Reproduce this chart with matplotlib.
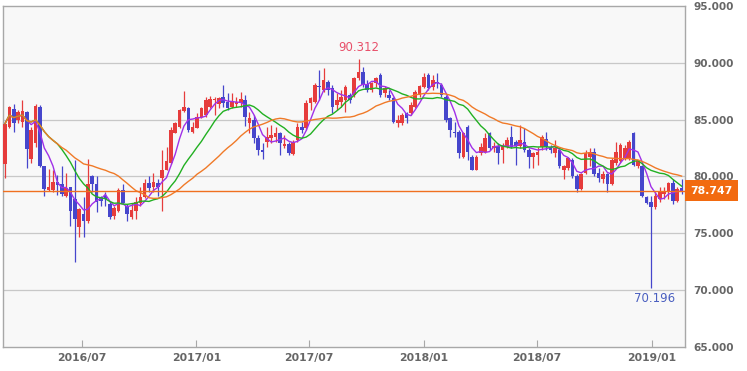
import numpy as np
import pandas as pd
import matplotlib
matplotlib.use("Agg")
import matplotlib.pyplot as plt
import matplotlib.dates as mdates
import matplotlib.transforms as mtrans

# ---- data (weekly candles, AUD/JPY style) ----
start_date = "2016-02-29"
opens = [81.14,84.39,85.96,85.00,84.82,85.70,81.58,82.98,86.14,80.88,
78.77,78.77,79.56,79.30,78.25,79.04,77.98,75.53,76.67,76.05,
80.00,79.30,78.07,78.25,77.54,76.49,76.93,78.77,77.37,76.40,
76.93,77.63,78.16,79.47,79.04,79.47,79.91,80.61,81.23,83.86,
84.39,85.79,86.05,83.95,84.30,85.26,85.44,86.14,86.75,86.40,
87.02,86.58,86.14,86.40,86.49,86.75,84.74,85.00,83.42,82.37,
83.07,83.42,83.51,83.86,82.72,82.90,82.02,83.25,84.39,84.30,
86.49,86.58,87.98,87.63,88.33,87.81,86.32,86.58,86.75,87.19,
87.19,88.68,89.21,88.16,87.63,88.25,88.95,87.37,87.19,86.93,
84.74,84.74,85.61,85.61,86.14,87.19,87.90,88.95,87.90,88.33,
88.07,87.02,85.18,83.95,83.95,81.75,84.39,81.75,80.61,82.11,
82.19,83.86,82.54,82.72,82.37,82.63,83.51,83.07,82.72,83.07,
82.37,81.75,81.93,82.63,83.33,82.63,82.11,82.37,80.53,80.79,
81.49,80.00,78.86,80.35,81.75,82.19,80.35,79.74,80.18,79.30,
81.23,81.32,81.67,81.67,83.86,80.88,80.88,78.16,77.72,77.28,
77.98,78.42,78.60,79.47,77.81,78.95]
highs = [84.91,86.23,86.40,85.88,86.75,85.75,84.39,86.40,86.32,80.95,
80.70,80.61,80.09,80.88,80.35,79.10,81.49,77.20,78.16,81.58,
80.09,80.00,78.25,78.68,77.81,77.37,78.95,79.30,77.54,77.63,
78.16,79.04,79.74,80.00,80.35,79.74,82.37,82.63,84.39,84.82,
85.96,87.54,86.10,84.82,85.61,86.14,87.02,87.10,87.02,87.02,
88.07,87.37,87.37,87.02,87.46,87.19,85.70,85.44,83.68,82.98,
84.39,84.56,84.39,83.95,83.68,83.07,83.25,84.74,84.82,86.75,
87.02,88.25,89.39,89.56,88.51,88.07,87.37,87.63,88.07,87.37,
88.77,90.312,89.65,88.51,88.33,88.77,89.12,87.98,87.63,87.02,
85.44,85.61,85.70,86.58,87.63,88.07,89.12,89.12,88.95,89.12,
88.25,87.19,85.26,84.82,84.12,83.95,84.56,81.93,81.93,82.98,
83.86,83.95,83.07,82.98,82.98,83.51,84.47,83.25,84.56,84.30,
82.54,82.19,82.63,83.68,83.95,82.81,83.25,82.54,81.05,81.75,
81.67,80.18,80.35,82.37,82.54,82.54,80.79,80.44,80.35,81.67,
83.07,82.98,82.81,83.25,83.95,81.49,81.05,78.25,78.25,78.60,
79.12,79.04,79.56,79.74,79.04,79.82]
lows = [79.91,84.30,83.95,84.74,84.39,80.79,81.23,82.63,80.80,78.25,
78.70,78.68,78.33,78.25,78.16,75.61,72.46,74.65,74.65,75.95,
78.68,76.84,77.37,77.37,76.23,76.23,76.84,77.54,76.05,76.23,
76.23,77.37,78.07,78.68,78.60,78.25,76.93,80.53,81.14,83.80,
84.30,85.70,83.95,83.86,84.25,85.18,85.26,86.05,85.44,86.05,
86.14,85.88,86.05,86.14,86.14,84.47,83.86,82.98,81.93,81.58,
82.63,82.98,83.07,81.93,82.54,81.93,81.93,83.07,83.86,84.12,
85.88,86.49,86.75,87.46,87.19,85.61,85.88,86.14,85.70,86.49,
87.02,88.51,87.90,87.46,87.46,87.90,87.02,87.02,86.75,84.74,
84.39,84.56,84.74,85.44,86.05,87.02,87.81,87.63,87.63,87.81,
87.02,84.82,83.51,83.51,81.67,81.67,81.49,80.55,80.53,81.93,
82.11,82.37,82.19,81.14,81.23,82.54,82.54,81.05,82.54,82.19,
80.79,80.79,81.05,82.37,82.37,82.11,81.75,80.79,79.74,80.61,
79.91,78.68,78.77,80.18,80.88,80.00,79.56,79.47,78.60,79.21,
81.05,81.23,81.49,81.49,80.88,80.79,78.16,77.54,70.196,77.11,
77.72,77.98,77.98,77.54,77.72,78.42]
closes = [84.65,86.14,84.74,85.70,85.79,82.46,84.12,86.23,80.88,78.86,
79.04,79.56,79.21,78.42,78.95,76.93,76.23,77.11,76.05,79.30,
79.30,77.72,77.81,77.98,76.40,77.19,78.77,77.63,76.67,77.02,
77.72,78.16,79.47,78.95,79.56,79.04,80.61,81.32,84.12,84.74,
85.88,86.14,84.12,84.39,85.26,86.05,86.75,86.84,86.84,86.93,
86.49,86.05,86.67,86.58,86.84,85.26,85.18,83.42,82.37,82.19,
83.51,83.68,83.86,82.98,82.90,82.11,83.07,84.39,84.12,86.49,
86.93,88.07,87.90,88.51,87.63,86.14,86.75,87.02,87.90,86.75,
88.68,89.21,88.07,87.63,88.25,88.68,87.19,87.81,86.93,84.82,
85.00,85.44,85.18,86.32,87.46,87.98,88.77,87.81,88.51,88.25,
87.19,85.00,84.12,83.86,82.11,83.86,82.19,80.61,81.75,82.63,
83.42,82.54,82.72,82.11,82.72,83.25,82.63,82.72,83.25,82.37,
81.75,82.11,82.19,83.51,82.63,82.37,82.54,80.88,80.88,81.67,
80.00,78.86,80.18,82.11,82.19,80.18,79.91,80.18,79.30,81.49,
82.19,82.81,82.54,83.07,81.05,81.32,78.25,77.63,77.28,78.25,
78.60,78.68,79.47,77.81,78.86,78.747]
ma_periods = [5, 13, 26]
ma_colors = ["#a030e8", "#22b022", "#f07a28"]
current_price = 78.747
y_ticks = [65, 70, 75, 80, 85, 90, 95]
x_ticks = ["2016-07-01", "2017-01-01", "2017-07-01", "2018-01-01", "2018-07-01", "2019-01-01"]
x_tick_labels = ["2016/07", "2017/01", "2017/07", "2018/01", "2018/07", "2019/01"]

UP = "#e63c3c"
DOWN = "#4646cc"

df = pd.DataFrame({"open": opens, "high": highs, "low": lows, "close": closes},
                  index=pd.date_range(start_date, periods=len(opens), freq="7D"))
xs = mdates.date2num(df.index.to_pydatetime())

fig = plt.figure(figsize=(7.47, 3.71), dpi=100)
fig.patch.set_facecolor("white")
ax = fig.add_axes([3/747, 1-347/371, 682/747, 341/371])
ax.set_facecolor("#f8f8f8")
for s in ax.spines.values():
    s.set_color("#a8a8a8")
    s.set_linewidth(1.0)

ax.set_ylim(65, 95)
ax.set_xlim(xs[0] - 3.2, xs[0] + 1090.5)
ax.set_yticks(y_ticks)
ax.yaxis.tick_right()
ax.set_yticklabels([f"{v:.3f}" for v in y_ticks])
ax.tick_params(axis="y", length=0, pad=6, labelsize=7.6, labelcolor="#666666")
for lab in ax.get_yticklabels():
    lab.set_fontweight("bold")
for v in y_ticks[1:-1]:
    ax.axhline(v, color="#c8c8c8", lw=0.9, zorder=0)

ax.set_xticks(mdates.date2num(pd.to_datetime(x_ticks).to_pydatetime()))
ax.set_xticklabels(x_tick_labels, fontweight="bold")
ax.tick_params(axis="x", direction="in", length=5, color="#a8a8a8", pad=4,
               labelsize=7.8, labelcolor="#666666")

# candles
up = df["close"] >= df["open"]
colors = np.where(up, UP, DOWN)
ax.vlines(xs, df["low"], df["high"], colors=colors, lw=0.9, zorder=2)
body_bottom = np.minimum(df["open"], df["close"])
body_h = np.maximum(np.abs(df["close"] - df["open"]), 0.08)
ax.bar(xs, body_h, bottom=body_bottom, width=5.8, color=colors, linewidth=0, zorder=3)

# moving averages
for p, c in zip(ma_periods, ma_colors):
    ma = df["close"].rolling(p, min_periods=1).mean()
    ax.plot(xs, ma, color=c, lw=1.0, zorder=4)

# current price line + label
ax.axhline(current_price, color="#f07020", lw=1.0, zorder=5)
trans = mtrans.blended_transform_factory(ax.transAxes, ax.transData)
ax.text(1.0 + 5/682, current_price, f"{current_price:.3f}", transform=trans,
        ha="left", va="center", color="white", fontsize=7.8, fontweight="bold",
        bbox=dict(boxstyle="square,pad=0.5", fc="#f26a10", ec="none"), clip_on=False)

# high / low annotations
imax = int(np.argmax(df["high"].values))
imin = int(np.argmin(df["low"].values))
ax.annotate(f"{df['high'].iloc[imax]:.3f}", xy=(xs[imax], df["high"].iloc[imax]),
            xytext=(0, 5), textcoords="offset pixels", ha="center", va="bottom",
            color="#e8506a", fontsize=8.5)
ax.annotate(f"{df['low'].iloc[imin]:.3f}", xy=(xs[imin], df["low"].iloc[imin]),
            xytext=(4, -4), textcoords="offset pixels", ha="center", va="top",
            color="#4a5fc0", fontsize=8.5)

fig.savefig("out.png", dpi=100)
